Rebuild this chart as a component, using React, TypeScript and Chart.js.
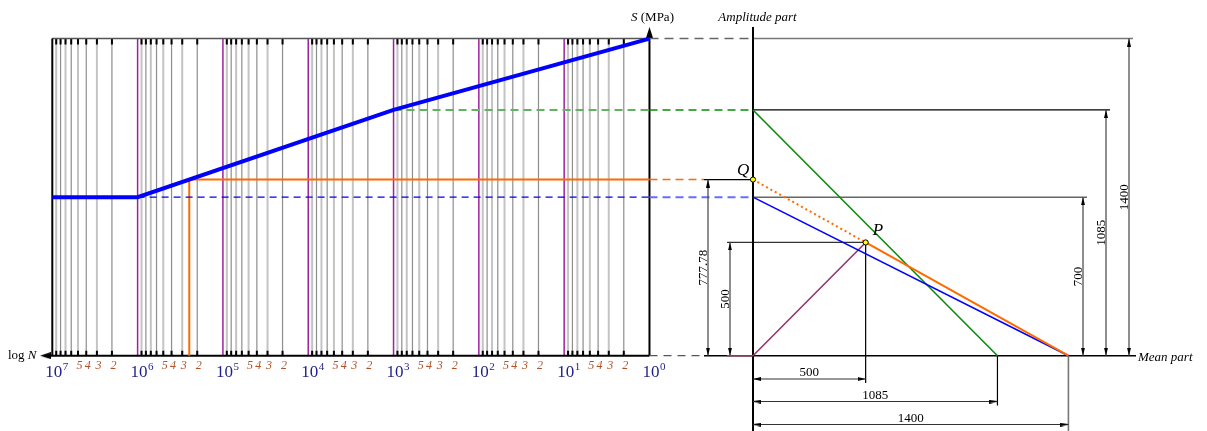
import React, { useEffect, useRef } from 'react';
import { Chart, registerables } from 'chart.js';

Chart.register(...registerables);

// ---------------- data ----------------
// S–N curve (left, log N reversed)
const SN_LIFE = [1e7, 1e6, 1e3, 1e0];
const SN_STRESS = [700, 700, 1085, 1400];
const DECADE_EXP = [7, 6, 5, 4, 3, 2, 1, 0];
const MINOR_MULT = [2, 3, 4, 5, 6, 7, 8, 9];
const MINOR_LABELS = ['5', '4', '3', '2'];
const Q_LIFE = 2.48e5;
const Q_STRESS = 777.78;
// Haigh diagram (right)
const ULTIMATE = 1400;
const ENDURANCE = 700;
const S_1E3 = 1085;
const P_MEAN = 500;
const P_AMP = 500;
const DIM_BOTTOM = [500, 1085, 1400];
const DIM_RIGHT = [700, 1085, 1400];
const DIM_LEFT = [777.78, 500];

// ---------------- layout (pixels) ----------------
const W = 1207;
const H = 431;
const BASE_Y = 355.7;
const KY = 0.2265;
const ORIGIN_X = 753;
const KX = 0.2253;
const LEFT_X = 52.3;
const DEC_PX = 85.31;
const Y_MIN = -(H - BASE_Y) / KY;
const Y_MAX = BASE_Y / KY;
const XR_MIN = -ORIGIN_X / KX;
const XR_MAX = (W - ORIGIN_X) / KX;
const LOG_MAX = 7 + LEFT_X / DEC_PX;
const LOG_MIN = LOG_MAX - W / DEC_PX;
const ux = (px: number) => (px - ORIGIN_X) / KX;
const uy = (py: number) => (BASE_Y - py) / KY;
const lx = (px: number) => Math.pow(10, LOG_MAX - px / DEC_PX);
const GAP_L = 649.5;
const DIM_LEFT_PX = [708, 730];
const DIM_RIGHT_PX = [1083, 1106, 1129];
const DIM_BOTTOM_PX = [379, 401.5, 424.5];
const RIGHT_EXT_COLORS = ['#666666', '#000000', '#777777'];

const SERIF = "'Liberation Serif', 'DejaVu Serif', serif";

type Pt = [number, number | null];

function line(axis: string, pts: Pt[], color: string, width: number, dash: number[] = []) {
  return {
    type: 'line',
    xAxisID: axis,
    yAxisID: 'y',
    data: pts.map(([x, y]) => ({ x, y })),
    borderColor: color,
    backgroundColor: color,
    borderWidth: width,
    borderDash: dash,
    pointRadius: 0,
    fill: false,
    tension: 0,
    spanGaps: false,
    borderCapStyle: 'butt',
  };
}

function vSeries(xs: number[], y0: number, y1: number): Pt[] {
  return xs.flatMap((x) => [[x, y0], [x, y1], [x, null]] as Pt[]);
}
function hSeries(ys: number[], x0s: number[], x1s: number[]): Pt[] {
  return ys.flatMap((y, i) => [[x0s[i], y], [x1s[i], y], [x1s[i], null]] as Pt[]);
}

function arrowImg(w: number, len: number, color = '#000') {
  const c = document.createElement('canvas');
  c.width = w;
  c.height = len * 2;
  const g = c.getContext('2d')!;
  g.fillStyle = color;
  g.beginPath();
  g.moveTo(w / 2, len);
  g.lineTo(w, len * 2);
  g.lineTo(0, len * 2);
  g.closePath();
  g.fill();
  return c;
}

function arrows(axis: string, pts: [number, number, number][], img: HTMLCanvasElement) {
  return {
    type: 'line',
    xAxisID: axis,
    yAxisID: 'y',
    showLine: false,
    data: pts.map(([x, y]) => ({ x, y })),
    pointStyle: img,
    pointRadius: 4,
    pointRotation: pts.map((p) => p[2]),
    pointBorderWidth: 0,
  };
}

function buildDatasets() {
  const small = arrowImg(4, 8);
  const big = arrowImg(7, 11);
  const minors = DECADE_EXP.slice(1).flatMap((e) => MINOR_MULT.map((m) => m * Math.pow(10, e)));
  const minorEven = DECADE_EXP.slice(1).flatMap((e) => MINOR_MULT.filter((m) => m % 2 === 0).map((m) => m * Math.pow(10, e)));
  const minorOdd = DECADE_EXP.slice(1).flatMap((e) => MINOR_MULT.filter((m) => m % 2 === 1).map((m) => m * Math.pow(10, e)));
  const inner = DECADE_EXP.filter((e) => e > 0 && e < 7).map((e) => Math.pow(10, e));
  const nMax = Math.pow(10, DECADE_EXP[0]);
  const nMin = Math.pow(10, DECADE_EXP[DECADE_EXP.length - 1]);

  const ds: any[] = [];
  // ---- left: grid
  ds.push(line('xl', vSeries(minorOdd, 0, ULTIMATE), '#c4c4c4', 2));
  ds.push(line('xl', vSeries(minorEven, 0, ULTIMATE), '#8e8e8e', 1.2));
  ds.push(line('xl', vSeries(inner, 0, ULTIMATE), '#a020a0', 1.5));
  ds.push(line('xl', vSeries(minors, ULTIMATE, ULTIMATE - 6 / KY), '#000', 2));
  ds.push(line('xl', vSeries(minors, 0, 5 / KY), '#000', 2));
  // borders
  ds.push(line('xl', [[nMax, ULTIMATE], [nMin, ULTIMATE]], '#555', 1.5));
  ds.push(line('xl', [[lx(44), 0], [nMin, 0]], '#000', 2));
  ds.push(line('xl', [[nMax, 0], [nMax, ULTIMATE]], '#000', 2));
  ds.push(line('xl', [[nMin, 0], [nMin, uy(32)]], '#000', 2));
  ds.push(arrows('xl', [[nMin, uy(27), 0]], big));
  ds.push(arrows('xl', [[lx(40), 0, 270]], big));
  // curves
  ds.push(line('xl', [[Q_LIFE, 0], [Q_LIFE, Q_STRESS], [nMin, Q_STRESS]], '#ff6a00', 2));
  ds.push(line('xl', [[SN_LIFE[2], SN_STRESS[2]], [nMin, SN_STRESS[2]]], '#62b262', 2, [8, 5]));
  ds.push(line('xl', [[SN_LIFE[1], SN_STRESS[1]], [nMin, SN_STRESS[1]]], '#0000ee', 1.3, [7, 5]));
  ds.push(line('xl', SN_LIFE.map((n, i) => [n, SN_STRESS[i]] as Pt), '#0000ff', 4));

  // ---- right: connectors across the gap
  const gl = ux(GAP_L);
  ds.push(line('xr', [[gl, ULTIMATE], [0, ULTIMATE]], '#666', 1.5, [9, 6]));
  ds.push(line('xr', [[gl, S_1E3], [0, S_1E3]], '#0a8a0a', 1.5, [8, 5]));
  ds.push(line('xr', [[gl, Q_STRESS], [ux(704), Q_STRESS]], '#ff6a00', 1.5, [8, 5]));
  ds.push(line('xr', [[gl, ENDURANCE], [0, ENDURANCE]], '#6b6bff', 2, [8, 5]));
  ds.push(line('xr', [[gl, 0], [ux(704), 0]], '#555', 1.3, [8, 6]));
  // extension lines
  ds.push(line('xr', [[ux(704), Q_STRESS], [0, Q_STRESS]], '#000', 1.2));
  ds.push(line('xr', [[ux(727), P_AMP], [P_MEAN, P_AMP]], '#333', 1.2));
  DIM_RIGHT.forEach((v, i) => {
    ds.push(line('xr', [[0, v], [ux(DIM_RIGHT_PX[i] + 4), v]], RIGHT_EXT_COLORS[i], i === 1 ? 1.2 : 1.5));
  });
  ds.push(line('xr', [[ux(704), 0], [ux(1136), 0]], '#000', 1.6));
  ds.push(line('xr', [[0, Y_MIN], [0, uy(27)]], '#000', 2));
  ds.push(line('xr', [[P_MEAN, P_AMP], [P_MEAN, uy(DIM_BOTTOM_PX[0] + 4)]], '#000', 1.2));
  ds.push(line('xr', [[DIM_BOTTOM[1], 0], [DIM_BOTTOM[1], uy(DIM_BOTTOM_PX[1] + 4)]], '#000', 1.2));
  ds.push(line('xr', [[DIM_BOTTOM[2], 0], [DIM_BOTTOM[2], Y_MIN]], '#777', 1.6));
  // dimension lines
  const leftX = DIM_LEFT_PX.map(ux);
  const rightX = DIM_RIGHT_PX.map(ux);
  const botY = DIM_BOTTOM_PX.map(uy);
  ds.push(line('xr', [...vSeries([leftX[0]], 0, DIM_LEFT[0]), ...vSeries([leftX[1]], 0, DIM_LEFT[1])], '#444', 1.2));
  ds.push(line('xr', DIM_RIGHT.flatMap((v, i) => vSeries([rightX[i]], 0, v)), '#444', 1.2));
  ds.push(line('xr', hSeries(botY, botY.map(() => 0), DIM_BOTTOM), '#333', 1.2));
  ds.push(arrows('xr', [
    ...DIM_LEFT.flatMap((v, i) => [[leftX[i], v, 0], [leftX[i], 0, 180]] as [number, number, number][]),
    ...DIM_RIGHT.flatMap((v, i) => [[rightX[i], v, 0], [rightX[i], 0, 180]] as [number, number, number][]),
    ...DIM_BOTTOM.flatMap((v, i) => [[0, botY[i], 270], [v, botY[i], 90]] as [number, number, number][]),
  ], small));
  // Haigh lines
  ds.push(line('xr', [[ux(727), 0], [0, 0], [P_MEAN, P_AMP]], '#993366', 1.6));
  ds.push(line('xr', [[0, S_1E3], [S_1E3, 0]], '#0a8a0a', 1.6));
  ds.push(line('xr', [[0, ENDURANCE], [ULTIMATE, 0]], '#0000ff', 1.6));
  ds.push(line('xr', [[0, Q_STRESS], [P_MEAN, P_AMP]], '#ff6a00', 2, [2, 3]));
  ds.push(line('xr', [[P_MEAN, P_AMP], [ULTIMATE, 0]], '#ff6a00', 2));
  ds.push({
    type: 'line', xAxisID: 'xr', yAxisID: 'y', showLine: false,
    data: [{ x: 0, y: Q_STRESS }, { x: P_MEAN, y: P_AMP }],
    pointRadius: 2.6, pointBackgroundColor: '#ffff00', pointBorderColor: '#000', pointBorderWidth: 1,
  });
  // Chart.js paints dataset 0 last; reverse so later entries sit on top
  return ds.reverse();
}

const textPlugin = {
  id: 'texts',
  afterDatasetsDraw(chart: any) {
    const ctx = chart.ctx as CanvasRenderingContext2D;
    const xl = chart.scales.xl;
    const xr = chart.scales.xr;
    const ys = chart.scales.y;
    ctx.save();
    ctx.textBaseline = 'alphabetic';
    // decade labels
    DECADE_EXP.forEach((e) => {
      const px = xl.getPixelForValue(Math.pow(10, e));
      ctx.fillStyle = '#1f1f86';
      ctx.font = `17px ${SERIF}`;
      ctx.textAlign = 'left';
      const x0 = px - 7;
      ctx.fillText('10', x0, 377);
      const w = ctx.measureText('10').width;
      ctx.font = `11px ${SERIF}`;
      ctx.fillText(String(e), x0 + w + 0.5, 369.5);
    });
    // minor labels
    ctx.fillStyle = '#b0522a';
    ctx.font = `italic 12px ${SERIF}`;
    ctx.textAlign = 'center';
    DECADE_EXP.slice(1).forEach((e) => {
      MINOR_LABELS.forEach((m) => {
        const px = xl.getPixelForValue(Number(m) * Math.pow(10, e));
        ctx.fillText(m, px + 1.5, 369);
      });
    });
    // axis titles
    ctx.fillStyle = '#000';
    ctx.textAlign = 'left';
    ctx.font = `13px ${SERIF}`;
    ctx.fillText('log ', 8, 359);
    let w = ctx.measureText('log ').width;
    ctx.font = `italic 13px ${SERIF}`;
    ctx.fillText('N', 8 + w, 359);

    ctx.font = `italic 13px ${SERIF}`;
    ctx.fillText('S', 631, 21);
    w = ctx.measureText('S').width;
    ctx.font = `13px ${SERIF}`;
    ctx.fillText(' (MPa)', 631 + w, 21);

    ctx.font = `italic 13px ${SERIF}`;
    ctx.textAlign = 'center';
    ctx.fillText('Amplitude part', 757.5, 21);
    ctx.textAlign = 'left';
    ctx.fillText('Mean part', 1138, 361);

    // Q, P
    ctx.font = `italic 17px ${SERIF}`;
    const qx = xr.getPixelForValue(0);
    const qy = ys.getPixelForValue(Q_STRESS);
    ctx.fillText('Q', qx - 16, qy - 5);
    const ppx = xr.getPixelForValue(P_MEAN);
    const ppy = ys.getPixelForValue(P_AMP);
    ctx.fillText('P', ppx + 7, ppy - 7);

    // dimension labels
    ctx.font = `13px ${SERIF}`;
    ctx.textAlign = 'center';
    DIM_BOTTOM.forEach((v, i) => {
      const mid = (xr.getPixelForValue(0) + xr.getPixelForValue(v)) / 2;
      ctx.fillText(String(v), mid, DIM_BOTTOM_PX[i] - 3);
    });
    const rot = (text: string, x: number, y: number) => {
      ctx.save();
      ctx.translate(x, y);
      ctx.rotate(-Math.PI / 2);
      ctx.fillText(text, 0, 0);
      ctx.restore();
    };
    DIM_RIGHT.forEach((v, i) => {
      const mid = (ys.getPixelForValue(0) + ys.getPixelForValue(v)) / 2;
      rot(String(v), DIM_RIGHT_PX[i] - 1.5, mid);
    });
    DIM_LEFT.forEach((v, i) => {
      const mid = (ys.getPixelForValue(0) + ys.getPixelForValue(v)) / 2;
      rot(String(v), DIM_LEFT_PX[i] - 1.5, mid);
    });
    ctx.restore();
  },
};

export default function App() {
  const ref = useRef<HTMLCanvasElement>(null);
  useEffect(() => {
    document.body.style.margin = '0';
    const chart = new Chart(ref.current as HTMLCanvasElement, {
      type: 'line',
      data: { datasets: buildDatasets() },
      options: {
        animation: false,
        responsive: false,
        devicePixelRatio: 1,
        events: [],
        layout: { padding: 0, autoPadding: false },
        plugins: { legend: { display: false }, tooltip: { enabled: false } },
        elements: { point: { radius: 0 }, line: { tension: 0 } },
        scales: {
          xl: { type: 'logarithmic', axis: 'x', reverse: true, min: Math.pow(10, LOG_MIN), max: Math.pow(10, LOG_MAX), display: false, bounds: 'data' },
          xr: { type: 'linear', axis: 'x', min: XR_MIN, max: XR_MAX, display: false },
          y: { type: 'linear', axis: 'y', min: Y_MIN, max: Y_MAX, display: false },
        },
      } as any,
      plugins: [textPlugin],
    } as any);
    return () => chart.destroy();
  }, []);
  return (
    <div style={{ position: 'absolute', left: 0, top: 0, width: W, height: H, background: '#fff' }}>
      <canvas ref={ref} width={W} height={H} style={{ display: 'block', width: W, height: H }} />
    </div>
  );
}
